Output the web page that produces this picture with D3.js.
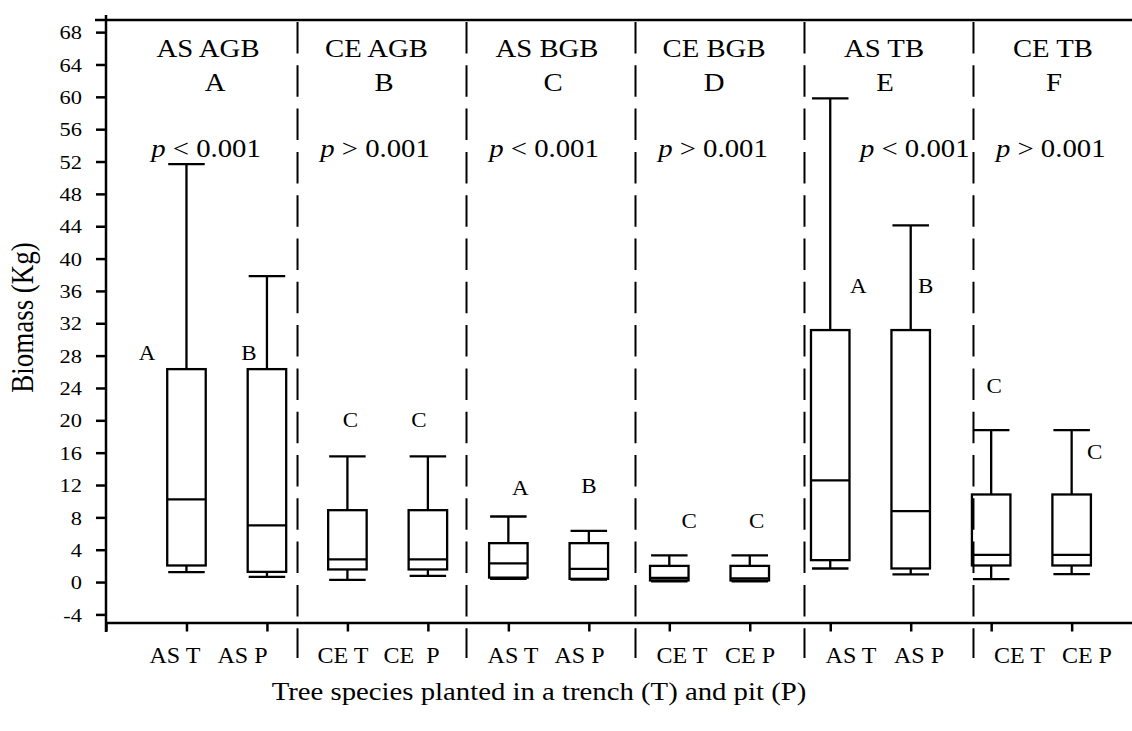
<!doctype html>
<html>
<head>
<script src="https://d3js.org/d3.v7.min.js"></script>
<style>
  body { margin: 0; background: #fff; }
  text { font-family: "Liberation Serif", "Times New Roman", serif; fill: #000; }
</style>
</head>
<body>
<svg width="1132" height="731" id="chart"></svg>
<script>
// ---- data ----
var categories  = ["AS T", "AS P", "CE T", "CE  P", "AS T", "AS P", "CE T", "CE P", "AS T", "AS P", "CE T", "CE P"];
var whiskerLow  = [1.22, 0.64, 0.27, 0.77, 0.40, 0.30, 0.10, 0.10, 1.68, 0.94, 0.36, 0.98];
var q1          = [2.05, 1.26, 1.56, 1.56, 0.55, 0.40, 0.20, 0.20, 2.71, 1.68, 2.05, 2.05];
var median      = [10.22, 7.00, 2.80, 2.80, 2.30, 1.63, 0.50, 0.45, 12.57, 8.77, 3.36, 3.36];
var q3          = [26.33, 26.33, 8.89, 8.89, 4.81, 4.81, 2.00, 2.00, 31.16, 31.16, 10.83, 10.83];
var whiskerHigh = [51.69, 37.84, 15.53, 15.53, 8.11, 6.33, 3.30, 3.30, 59.81, 44.10, 18.79, 18.79];
var sigLetters  = ["A", "B", "C", "C", "A", "B", "C", "C", "A", "B", "C", "C"];

var groupNames   = ["AS AGB", "CE AGB", "AS BGB", "CE BGB", "AS TB", "CE TB"];
var groupLetters = ["A", "B", "C", "D", "E", "F"];
var pSigns       = ["<", ">", "<", ">", "<", ">"];

var yTicks = [-4, 0, 4, 8, 12, 16, 20, 24, 28, 32, 36, 40, 44, 48, 52, 56, 60, 64, 68];

// ---- layout (x in category units, y in biomass units unless noted) ----
var dividers   = [2.38, 4.48, 6.58, 8.68, 10.78];
var catLabelX  = [0.857, 1.696, 2.945, 3.796, 5.058, 5.884, 7.158, 8.003, 9.258, 10.103, 11.352, 12.19];
var sigDx      = [-39.5, -18, 3, -9, 12, 0, 20, 7, 28, 15, 3, 23];      // px from box centre
var sigY       = [27.4, 27.4, 19.2, 19.2, 10.75, 11.0, 6.65, 6.65, 35.8, 35.7, 23.4, 15.2];
var titleX     = [1.268, 3.361, 5.48, 7.556, 9.668, 11.768];
var letterX    = [1.355, 3.455, 5.555, 7.556, 9.681, 11.78];
var pX         = [1.243, 3.343, 5.443, 7.543, 10.05, 11.74];

var svg = d3.select("#chart"),
    xScale = d3.scaleLinear().domain([0, 12.75]).range([106, 1132]),
    yScale = d3.scaleLinear().domain([-5, 69.5]).range([622.5, 20]);

var stretch = 1.15;   // the original figure is slightly widened

function label(txt, x, y, size, sx) {
  return svg.append("text")
    .attr("transform", "translate(" + x + "," + y + ") scale(" + sx + ",1)")
    .attr("text-anchor", "middle")
    .style("font-size", size + "px")
    .text(txt);
}

// dashed separators
svg.append("g").selectAll("line")
  .data(dividers)
  .enter().append("line")
  .attr("x1", function (d) { return xScale(d); })
  .attr("x2", function (d) { return xScale(d); })
  .attr("y1", 22)
  .attr("y2", 658)
  .attr("stroke", "#000")
  .attr("stroke-width", 2)
  .attr("stroke-dasharray", "31.5,11.8");

// y axis
var yAxis = svg.append("g")
  .attr("transform", "translate(106,0)")
  .call(d3.axisLeft(yScale).tickValues(yTicks).tickSize(10).tickFormat(function (d) { return String(d); }));
yAxis.select(".domain").remove();
yAxis.attr("font-family", null).attr("font-size", null);
yAxis.selectAll("line").attr("stroke-width", 2.5);
yAxis.selectAll("text")
  .attr("x", -24 / stretch)
  .attr("dy", "0.34em")
  .attr("transform", "scale(" + stretch + ",1)")
  .style("font-size", "19.5px");

svg.append("line").attr("x1", 106).attr("x2", 106).attr("y1", 15).attr("y2", 632)
  .attr("stroke", "#000").attr("stroke-width", 2.5);
svg.append("line").attr("x1", 95).attr("x2", 1132).attr("y1", 20).attr("y2", 20)
  .attr("stroke", "#000").attr("stroke-width", 2.5);

// x axis
var xAxis = svg.append("g")
  .attr("transform", "translate(0,622.5)")
  .call(d3.axisBottom(xScale).tickValues(d3.range(0, 13)).tickSize(9).tickSizeOuter(0).tickFormat(""));
xAxis.select(".domain").attr("stroke-width", 2.5);
xAxis.selectAll("line").attr("stroke-width", 2.5);

// boxes
var boxW = 38.5, capW = 36.5;
var boxes = svg.append("g")
  .attr("stroke", "#000")
  .attr("stroke-width", 2.3)
  .attr("fill", "none")
  .selectAll("g")
  .data(categories)
  .enter().append("g")
  .attr("transform", function (d, i) { return "translate(" + xScale(i + 1) + ",0)"; });

boxes.append("line")
  .attr("y1", function (d, i) { return yScale(whiskerHigh[i]); })
  .attr("y2", function (d, i) { return yScale(q3[i]); });
boxes.append("line")
  .attr("y1", function (d, i) { return yScale(q1[i]); })
  .attr("y2", function (d, i) { return yScale(whiskerLow[i]); });
boxes.append("line")
  .attr("x1", -capW / 2).attr("x2", capW / 2)
  .attr("y1", function (d, i) { return yScale(whiskerHigh[i]); })
  .attr("y2", function (d, i) { return yScale(whiskerHigh[i]); });
boxes.append("line")
  .attr("x1", -capW / 2).attr("x2", capW / 2)
  .attr("y1", function (d, i) { return yScale(whiskerLow[i]); })
  .attr("y2", function (d, i) { return yScale(whiskerLow[i]); });
boxes.append("rect")
  .attr("x", -boxW / 2)
  .attr("width", boxW)
  .attr("y", function (d, i) { return yScale(q3[i]); })
  .attr("height", function (d, i) { return yScale(q1[i]) - yScale(q3[i]); });
boxes.append("line")
  .attr("x1", -boxW / 2).attr("x2", boxW / 2)
  .attr("y1", function (d, i) { return yScale(median[i]); })
  .attr("y2", function (d, i) { return yScale(median[i]); });

// significance letters by the boxes
sigLetters.forEach(function (s, i) {
  label(s, xScale(i + 1) + sigDx[i], yScale(sigY[i]), 20, stretch);
});

// panel headers
groupNames.forEach(function (g, i) {
  label(g, xScale(titleX[i]), 56.7, 25, stretch);
  label(groupLetters[i], xScale(letterX[i]), 90.5, 25, stretch);
  var t = svg.append("text")
    .attr("transform", "translate(" + xScale(pX[i]) + ",157) scale(" + stretch + ",1)")
    .attr("text-anchor", "middle")
    .style("font-size", "25px");
  t.append("tspan").style("font-style", "italic").text("p");
  t.append("tspan").text(" " + pSigns[i] + " 0.001");
});

// category labels
categories.forEach(function (c, i) {
  label(c, xScale(catLabelX[i]), 663.3, 24, 1).style("white-space", "pre");
});

// axis titles
label("Tree species planted in a trench (T) and pit (P)", 539, 700, 25, stretch);
svg.append("text")
  .attr("transform", "translate(33,317.5) scale(" + stretch + ",1) rotate(-90)")
  .attr("text-anchor", "middle")
  .style("font-size", "27px")
  .text("Biomass (Kg)");
</script>
</body>
</html>
